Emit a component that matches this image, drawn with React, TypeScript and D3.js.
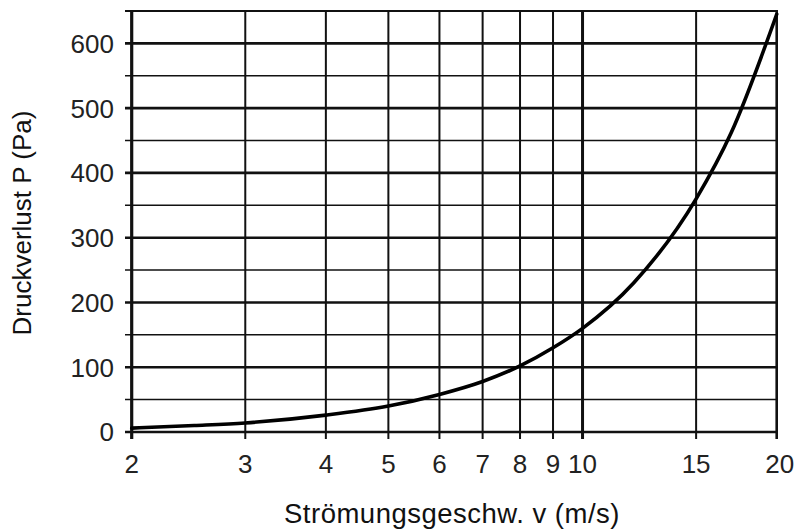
import React from "react";
import * as d3 from "d3";

const xTicks = [2, 3, 4, 5, 6, 7, 8, 9, 10, 15, 20];
const yMajor = [0, 100, 200, 300, 400, 500, 600];
const yMinor = [50, 150, 250, 350, 450, 550, 650];
const velocity = [2, 2.5, 3, 4, 5, 6, 7, 8, 9, 10, 12, 15, 17, 20];
const pressure = [6, 10, 14, 26, 40, 58, 78, 102, 130, 160, 230, 360, 462, 645];

const W = 799;
const H = 531;
const FONT = "'Liberation Sans', Arial, sans-serif";

export default function App() {
  const x = d3.scaleLog().domain([2, 20]).range([131.7, 776.7]);
  const y = d3.scaleLinear().domain([0, 650]).range([432, 11]);
  const line = d3
    .line<number>()
    .x((_, i) => x(velocity[i]))
    .y((d) => y(d))
    .curve(d3.curveMonotoneX);
  const x1 = x(20);
  const tickLeft = 125;
  const tickBottom = 439;
  return (
    <svg width={W} height={H} style={{ position: "absolute", left: 0, top: 0, background: "#fff" }}>
      <rect width={W} height={H} fill="#fff" />
      {yMinor.map((v) => (
        <line key={"mi" + v} x1={tickLeft} x2={x1} y1={y(v)} y2={y(v)} stroke="#111" strokeWidth={v === 650 ? 2.2 : 1.5} />
      ))}
      {yMajor.map((v) => (
        <line key={"ma" + v} x1={tickLeft} x2={x1} y1={y(v)} y2={y(v)} stroke="#111" strokeWidth={2.6} />
      ))}
      {xTicks.map((v) => (
        <line
          key={"v" + v}
          x1={x(v)}
          x2={x(v)}
          y1={y(650) - 1}
          y2={tickBottom}
          stroke="#111"
          strokeWidth={v === 2 ? 3.2 : v === 10 ? 3 : v === 20 ? 2.6 : 2}
        />
      ))}
      <path d={line(pressure) || ""} fill="none" stroke="#000" strokeWidth={3.6} strokeLinecap="round" />
      {yMajor.map((v) => (
        <text key={"yl" + v} x={114} y={y(v)} dy="0.36em" textAnchor="end" fontFamily={FONT} fontSize={26} fill="#222">
          {v}
        </text>
      ))}
      {xTicks.map((v) => (
        <text key={"xl" + v} x={x(v) + (v === 20 ? 3 : 0)} y={473} textAnchor="middle" fontFamily={FONT} fontSize={26} fill="#222">
          {v}
        </text>
      ))}
      <text x={452} y={523} textAnchor="middle" fontFamily={FONT} fontSize={27.5} letterSpacing={0.5} fill="#111">
        Strömungsgeschw. v (m/s)
      </text>
      <text
        transform={`translate(31, 223) rotate(-90)`}
        textAnchor="middle"
        fontFamily={FONT}
        fontSize={26}
        fill="#111"
      >
        Druckverlust P (Pa)
      </text>
    </svg>
  );
}
